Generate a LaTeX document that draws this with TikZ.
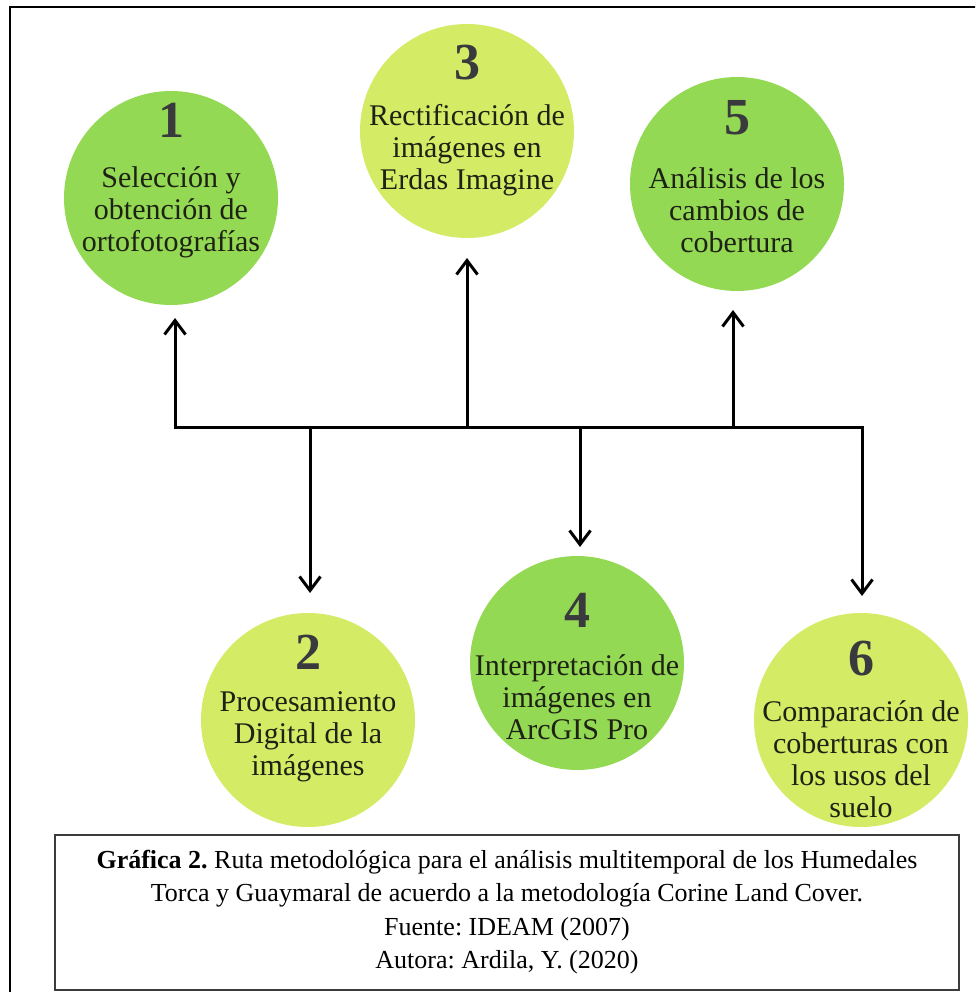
\documentclass[tikz,border=0pt]{standalone}
\usepackage{fontspec}
\setmainfont{Liberation Serif}
\usetikzlibrary{arrows.meta}
\frenchspacing
\definecolor{gdark}{RGB}{148,217,83}
\definecolor{glight}{RGB}{212,235,102}
\definecolor{numgray}{RGB}{58,58,62}
\definecolor{txtdark}{RGB}{30,34,20}
\definecolor{framegray}{RGB}{60,60,60}
\tikzset{
  stepcircle/.style={circle, minimum size=214pt, inner sep=0pt},
  numtext/.style={font=\fontsize{52}{52}\selectfont\bfseries, text=numgray, inner sep=0pt},
  bodytext/.style={font=\fontsize{30}{32}\selectfont, text=txtdark, align=center, inner sep=0pt},
  conn/.style={line width=3pt, black},
  arr/.style={conn, -{Straight Barb[length=14pt, width=21pt, line width=3pt]}},
  captext/.style={font=\fontsize{26}{33.5}\selectfont, align=center, inner sep=0pt}
}
\begin{document}
\begin{tikzpicture}[x=1pt, y=-1pt]
\useasboundingbox (0,0) rectangle (975,992);
\begin{scope}
\clip (0,0) rectangle (975,992);
\draw[line width=2.5pt, black] (10,995) -- (10,7) -- (985,7);
\end{scope}

% circles
\node[stepcircle, fill=gdark]  (c1) at (171,198) {};
\node[stepcircle, fill=glight] (c3) at (467,131) {};
\node[stepcircle, fill=gdark]  (c5) at (737,184) {};
\node[stepcircle, fill=glight] (c2) at (308,720) {};
\node[stepcircle, fill=gdark]  (c4) at (577,663) {};
\node[stepcircle, fill=glight] (c6) at (861,720) {};

% numbers
\node[numtext] (n1) at (171,120) {1};
\node[numtext] (n3) at (467,63) {3};
\node[numtext] (n5) at (737,118) {5};
\node[numtext] (n2) at (308,652) {2};
\node[numtext] (n4) at (577,610) {4};
\node[numtext] (n6) at (861,659) {6};

% texts
\node[bodytext] (l1) at (171,212) {Selección y\\obtención de\\ortofotografías};
\node[bodytext] (l3) at (467,150) {Rectificación de\\imágenes en\\Erdas Imagine};
\node[bodytext] (l5) at (737,210) {Análisis de los\\cambios de\\cobertura};
\node[bodytext] (l2) at (308,737) {Procesamiento\\Digital de la\\imágenes};
\node[bodytext] (l4) at (577,697) {Interpretación de\\imágenes en\\ArcGIS Pro};
\node[bodytext] (l6) at (861,759) {Comparación de\\coberturas con\\los usos del\\suelo};

% bus junctions
\coordinate (b1) at (175,427);
\coordinate (b2) at (310,427);
\coordinate (b3) at (467,427);
\coordinate (b4) at (580,427);
\coordinate (b5) at (733,427);
\coordinate (b6) at (862,427);

% arrow tips
\coordinate (t1) at (175,318);
\coordinate (t2) at (310,593);
\coordinate (t3) at (467,258);
\coordinate (t4) at (580,547);
\coordinate (t5) at (733,310);
\coordinate (t6) at (862,596);

\draw[conn, {Straight Barb[length=14pt, width=21pt, line width=3pt]}-{Straight Barb[length=14pt, width=21pt, line width=3pt]}]
  (t1) -- (b1) -- (b6) -- (t6);
\draw[arr] (b2) -- (t2);
\draw[arr] (b3) -- (t3);
\draw[arr] (b4) -- (t4);
\draw[arr] (b5) -- (t5);

% caption
\draw[line width=2pt, framegray] (55,835) rectangle (959,990);
\node[captext] (cap) at (507,912) {\textbf{Gráfica 2.} Ruta metodológica para el análisis multitemporal de los Humedales\\Torca y Guaymaral de acuerdo a la metodología Corine Land Cover.\\Fuente: IDEAM (2007)\\Autora: Ardila, Y. (2020)};
\end{tikzpicture}
\end{document}
